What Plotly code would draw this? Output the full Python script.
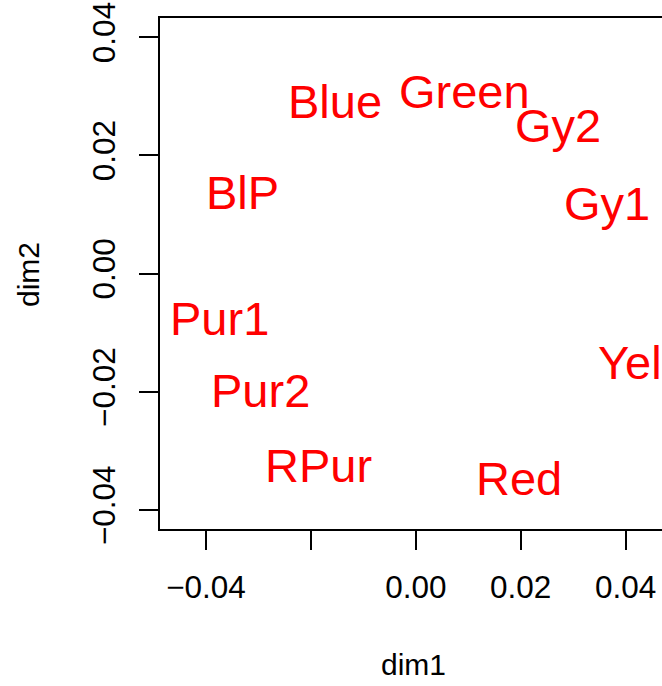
import plotly.graph_objects as go

labels = ["Blue", "Green", "Gy2", "Gy1", "BlP", "Pur1", "Pur2", "RPur", "Yel", "Red"]
dim1 = [-0.01550, 0.00928, 0.02711, 0.03636, -0.03304, -0.03752, -0.02970, -0.01846, 0.04084, 0.01968]
dim2 = [0.02904, 0.03073, 0.02506, 0.01178, 0.01372, -0.00768, -0.01970, -0.03244, -0.01496, -0.03459]

x_ticks = [-0.04, -0.02, 0.00, 0.02, 0.04]
x_ticktext = ["\u22120.04", "", "0.00", "0.02", "0.04"]
y_ticks = [-0.04, -0.02, 0.00, 0.02, 0.04]
y_ticktext = ["\u22120.04", "\u22120.02", "0.00", "0.02", "0.04"]

FONT = "Liberation Sans, Arial, sans-serif"

fig = go.Figure()
# invisible trace to set up axes
fig.add_trace(go.Scatter(
    x=dim1, y=dim2, mode="markers", marker=dict(opacity=0),
    hoverinfo="skip", showlegend=False,
))

annotations = [
    dict(text=t, x=xv, y=yv, xref="x", yref="y", showarrow=False,
         xanchor="center", yanchor="middle", yshift=0,
         font=dict(family=FONT, size=47, color="#FF0000"))
    for t, xv, yv in zip(labels, dim1, dim2)
]
annotations += [
    dict(text="dim1", xref="paper", yref="paper", x=0.504, y=-0.266,
         xanchor="center", yanchor="middle", showarrow=False,
         font=dict(family=FONT, size=30, color="black")),
    dict(text="dim2", xref="paper", yref="paper", x=-0.263, y=0.499,
         xanchor="center", yanchor="middle", showarrow=False, textangle=-90,
         font=dict(family=FONT, size=30, color="black")),
]

fig.update_layout(
    width=662, height=686, autosize=False,
    margin=dict(l=160, r=0, t=18, b=157, pad=0),
    paper_bgcolor="white", plot_bgcolor="white",
    font=dict(family=FONT, size=30, color="black"),
    xaxis=dict(
        range=[-0.04877, 0.04694], tickvals=x_ticks, ticktext=x_ticktext,
        showgrid=False, zeroline=False, showline=True, mirror=True,
        linecolor="black", linewidth=2, ticks="outside", ticklen=19,
        tickwidth=2, tickcolor="black", ticklabelstandoff=10,
        tickfont=dict(family=FONT, size=31.5, color="black"),
    ),
    yaxis=dict(
        range=[-0.04322, 0.04325], tickvals=y_ticks, ticktext=y_ticktext,
        showgrid=False, zeroline=False, showline=True, mirror=False,
        linecolor="black", linewidth=2, ticks="outside", ticklen=19,
        tickwidth=2, tickcolor="black", tickangle=-90, ticklabelstandoff=11,
        tickfont=dict(family=FONT, size=31.5, color="black"),
    ),
    annotations=annotations,
)

fig.write_html("out.html")
